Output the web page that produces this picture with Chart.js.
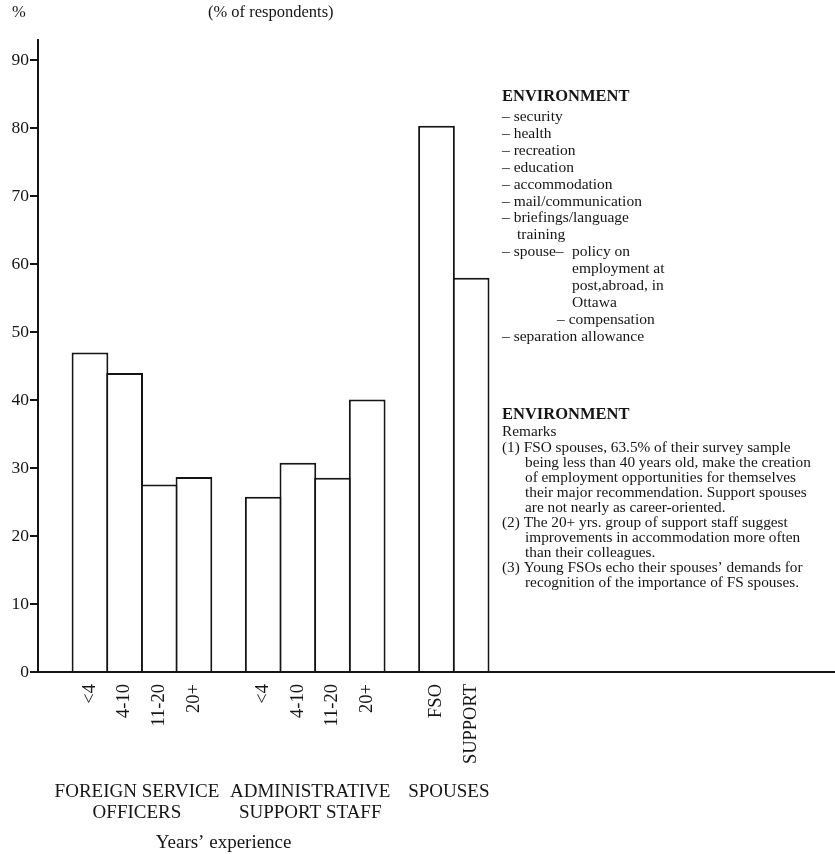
<!DOCTYPE html>
<html lang="en">
<head>
  <meta charset="UTF-8" />
  <title>Environment (% of respondents)</title>
  <script src="https://cdn.jsdelivr.net/npm/chart.js"></script>
  <style>
    html, body {
      margin: 0;
      padding: 0;
      background: #fff;
    }
    #wrap {
      position: relative;
      width: 835px;
      height: 854px;
    }
  </style>
</head>
<body>
  <div id="wrap"><canvas id="envChart"></canvas></div>

  <script>
    // % of respondents naming "environment" issues
    const fsoYears = ["<4", "4-10", "11-20", "20+"];
    const fsoValues = [47, 44, 27.6, 28.7];
    const staffYears = ["<4", "4-10", "11-20", "20+"];
    const staffValues = [25.8, 30.8, 28.6, 40.1];
    const spouseTypes = ["FSO", "SUPPORT"];
    const spouseValues = [80.4, 58];
    const yTicks = [0, 10, 20, 30, 40, 50, 60, 70, 80, 90];

    const groupNames = [
      ["FOREIGN SERVICE", "OFFICERS"],
      ["ADMINISTRATIVE", "SUPPORT STAFF"],
      ["SPOUSES"]
    ];

    const envList = [
      [0, "– security"],
      [0, "– health"],
      [0, "– recreation"],
      [0, "– education"],
      [0, "– accommodation"],
      [0, "– mail/communication"],
      [0, "– briefings/language"],
      [15, "training"],
      [0, "– spouse–"],
      [70, "employment at"],
      [70, "post,abroad, in"],
      [70, "Ottawa"],
      [55, "– compensation"],
      [0, "– separation allowance"]
    ];

    const remarks = [
      [0, "(1) FSO spouses, 63.5% of their survey sample"],
      [23, "being less than 40 years old, make the creation"],
      [23, "of employment opportunities for themselves"],
      [23, "their major recommendation. Support spouses"],
      [23, "are not nearly as career-oriented."],
      [0, "(2) The 20+ yrs. group of support staff suggest"],
      [23, "improvements in accommodation more often"],
      [23, "than their colleagues."],
      [0, "(3) Young FSOs echo their spouses’ demands for"],
      [23, "recognition of the importance of FS spouses."]
    ];

    // one empty slot before each group, the rest of the axis stays empty
    const SLOTS = 23;
    const labels = [];
    const values = [];
    const groupSlots = [];
    [[fsoYears, fsoValues], [staffYears, staffValues], [spouseTypes, spouseValues]].forEach(([cats, vals]) => {
      labels.push("");
      values.push(null);
      groupSlots.push([labels.length, labels.length + cats.length - 1]);
      cats.forEach((c, i) => {
        labels.push(c);
        values.push(vals[i]);
      });
    });
    while (labels.length < SLOTS) {
      labels.push("");
      values.push(null);
    }

    const ink = "#151515";
    const serif = "'Liberation Serif', 'Times New Roman', serif";

    const annotations = {
      id: "annotations",
      afterDraw(chart) {
        const { ctx } = chart;
        const xs = chart.scales.x;
        ctx.save();
        ctx.fillStyle = ink;
        ctx.textBaseline = "middle";

        ctx.font = "16.5px " + serif;
        ctx.textAlign = "left";
        ctx.fillText("%", 12, 13);
        ctx.fillText("(% of respondents)", 208, 13);

        // group captions under the rotated labels
        ctx.font = "19px " + serif;
        ctx.textAlign = "center";
        const centers = groupSlots.map(([a, b]) => (xs.getPixelForValue(a) + xs.getPixelForValue(b)) / 2 - 5);
        groupNames.forEach((lines, g) => {
          lines.forEach((t, i) => ctx.fillText(t, centers[g], 792 + i * 21));
        });
        ctx.fillText("Years’ experience", (centers[0] + centers[1]) / 2, 843);

        // issue list
        const left = 502;
        ctx.textAlign = "left";
        ctx.font = "bold 16.5px " + serif;
        ctx.fillText("ENVIRONMENT", left, 97);
        ctx.font = "15.5px " + serif;
        envList.forEach(([dx, t], i) => ctx.fillText(t, left + dx, 117 + i * 16.9));
        ctx.fillText("policy on", left + 70, 117 + 8 * 16.9);

        // remarks
        ctx.font = "bold 16.5px " + serif;
        ctx.fillText("ENVIRONMENT", left, 415);
        ctx.font = "15.3px " + serif;
        ctx.fillText("Remarks", left, 432);
        remarks.forEach(([dx, t], i) => ctx.fillText(t, left + dx, 448 + i * 15));

        ctx.restore();
      }
    };

    new Chart(document.getElementById("envChart"), {
      type: "bar",
      data: {
        labels: labels,
        datasets: [{
          data: values,
          backgroundColor: "#fff",
          borderColor: ink,
          borderWidth: 2,
          borderSkipped: "bottom",
          categoryPercentage: 1,
          barPercentage: 1.06
        }]
      },
      options: {
        responsive: true,
        maintainAspectRatio: false,
        animation: false,
        layout: { padding: { top: 40, left: 0, right: 0, bottom: 0 } },
        plugins: {
          legend: { display: false },
          tooltip: { enabled: false }
        },
        scales: {
          x: {
            z: 1,
            grid: { display: false, drawTicks: false },
            border: { display: true, color: ink, width: 2 },
            ticks: {
              autoSkip: false,
              minRotation: 90,
              maxRotation: 90,
              padding: 12,
              color: ink,
              font: { family: serif, size: 18.5 }
            },
            afterFit: s => {
              s.height = 182;
              s.paddingLeft = 0;
              s.paddingRight = 0;
            }
          },
          y: {
            z: 1,
            min: 0,
            max: 93,
            afterFit: s => { s.width = 38; },
            afterBuildTicks: s => { s.ticks = yTicks.map(v => ({ value: v })); },
            grid: { drawOnChartArea: false, drawTicks: true, tickLength: 8, color: ink, lineWidth: 2 },
            border: { display: true, color: ink, width: 2 },
            ticks: {
              padding: 1,
              color: ink,
              font: { family: serif, size: 17.5 }
            }
          }
        }
      },
      plugins: [annotations]
    });
  </script>
</body>
</html>
